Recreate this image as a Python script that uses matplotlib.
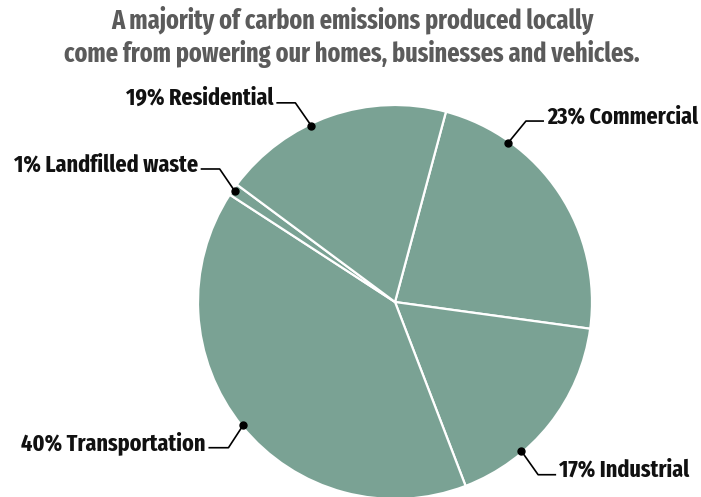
import numpy as np
import matplotlib
matplotlib.use("Agg")
import matplotlib.pyplot as plt

# Datos del grafico
sectors = ["Commercial", "Industrial", "Transportation", "Landfilled waste", "Residential"]
shares = [23, 17, 40, 1, 19]

title = "A majority of carbon emissions produced locally\ncome from powering our homes, businesses and vehicles."

FONT = ["Fira Sans Extra Condensed", "DejaVu Sans"]
W, H = 701, 497
cx, cy, R = 395, H - 302, 197

fig = plt.figure(figsize=(W / 100, H / 100), dpi=100)
ax = fig.add_axes([0, 0, 1, 1])

ax.pie(shares, colors=["#7aa294"] * len(shares), startangle=75, counterclock=False,
       center=(cx, cy), radius=R, frame=True,
       wedgeprops=dict(edgecolor="white", linewidth=1.6))
ax.set_xlim(0, W)
ax.set_ylim(0, H)
ax.axis("off")

# angulo del punto, desplazamiento del codo, largo del tramo horizontal
leaders = {
    "Commercial": (54.6, (18, 22), 18),
    "Industrial": (-49.7, (17, -24), 18),
    "Transportation": (219.0, (-15, -23), 20),
    "Landfilled waste": (145.3, (-15, 22), 19),
    "Residential": (115.4, (-16, 23), 19),
}

for name, val in zip(sectors, shares):
    ang, (ex, ey), hl = leaders[name]
    r = R - 2
    px = cx + r * np.cos(np.radians(ang))
    py = cy + r * np.sin(np.radians(ang))
    kx, ky = px + ex, py + ey
    side = 1 if ex > 0 else -1
    hx = kx + side * hl
    ax.plot([px, kx, hx], [py, ky, ky], color="black", lw=1.2, solid_capstyle="butt")
    ax.plot(px, py, "o", color="black", ms=5)
    ax.text(hx + side * 3, ky - 2, f"{val}% {name}", ha="left" if side > 0 else "right",
            va="baseline", fontsize=17.3, fontweight="bold", family=FONT, color="#111111")

fig.text(352 / W, 1 - 37 / H, title, ha="center", va="center", fontsize=19,
         fontweight="bold", family=FONT, color="#5b5b5b", linespacing=1.2)

fig.savefig("out.png", dpi=100)
